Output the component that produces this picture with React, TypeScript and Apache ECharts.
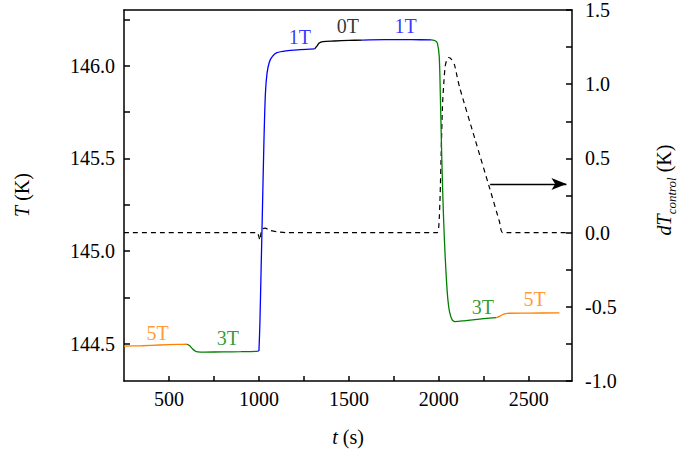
import React, { useEffect, useRef } from 'react';
import * as echarts from 'echarts';

const FONT = 'serif';

// tick positions
const xLabelValues = [500, 1000, 1500, 2000, 2500];
const xTickValues = [500, 750, 1000, 1250, 1500, 1750, 2000, 2250, 2500];
const tLabelValues = [144.5, 145.0, 145.5, 146.0];
const tTickValues = [144.5, 144.75, 145.0, 145.25, 145.5, 145.75, 146.0, 146.25];
const dLabelValues = [-1.0, -0.5, 0.0, 0.5, 1.0, 1.5];
const dTickValues = [-1.0, -0.75, -0.5, -0.25, 0.0, 0.25, 0.5, 0.75, 1.0, 1.25, 1.5];

// T(K) segments, [t (s), T (K)]
const seg5Ta = [[250, 144.488], [350, 144.49], [450, 144.494], [550, 144.497], [600, 144.498]];
const seg3Ta = [[600, 144.498], [615, 144.49], [630, 144.474], [645, 144.462], [660, 144.457], [700, 144.456], [800, 144.457], [900, 144.458], [990, 144.46], [1000, 144.462]];
const seg1Ta = [[1000, 144.462], [1005, 144.6], [1012, 144.9], [1020, 145.25], [1028, 145.6], [1036, 145.85], [1045, 145.96], [1058, 146.02], [1075, 146.05], [1100, 146.07], [1150, 146.08], [1230, 146.086], [1310, 146.09]];
const seg0T = [[1310, 146.09], [1322, 146.105], [1335, 146.122], [1355, 146.13], [1420, 146.133], [1500, 146.136], [1575, 146.138]];
const seg1Tb = [[1575, 146.138], [1700, 146.14], [1850, 146.14], [1960, 146.139]];
const seg3Tb = [[1960, 146.139], [1980, 146.134], [1992, 146.12], [2002, 146.05], [2008, 145.85], [2015, 145.55], [2022, 145.3], [2030, 145.08], [2040, 144.88], [2050, 144.74], [2060, 144.67], [2075, 144.628], [2090, 144.62], [2150, 144.626], [2250, 144.636], [2320, 144.642]];
const seg5Tb = [[2320, 144.642], [2340, 144.65], [2360, 144.66], [2380, 144.665], [2500, 144.666], [2670, 144.667]];

// dT_control (K), [t (s), dT]
const dTcontrol = [[250, 0], [990, 0], [998, -0.02], [1005, -0.05], [1012, 0.0], [1020, 0.025], [1035, 0.03], [1060, 0.015], [1100, 0.005], [1150, 0], [1990, 0], [2000, 0.05], [2007, 0.25], [2013, 0.54], [2020, 0.85], [2027, 1.0], [2035, 1.12], [2045, 1.168], [2055, 1.18], [2070, 1.168], [2087, 1.13], [2100, 1.06], [2115, 0.98], [2200, 0.633], [2282, 0.30], [2337, 0.073], [2355, 0], [2710, 0]];

// arrow pointing to the right axis, [t, dT]
const arrowFrom = [2285, 0.327];
const arrowTo = [2709, 0.327];

// field labels
const fieldLabels = [
  { text: '5T', t: 437, T: 144.557, color: '#ff8000' },
  { text: '3T', t: 827, T: 144.53, color: '#008000' },
  { text: '1T', t: 1227, T: 146.156, color: '#0000ff' },
  { text: '0T', t: 1494, T: 146.215, color: '#000000' },
  { text: '1T', t: 1815, T: 146.215, color: '#0000ff' },
  { text: '3T', t: 2244, T: 144.70, color: '#008000' },
  { text: '5T', t: 2532, T: 144.74, color: '#ff8000' },
];

const ORANGE = '#ff8000';
const GREEN = '#008000';
const BLUE = '#0000ff';
const BLACK = '#000000';

function lineSeries(data: number[][], color: string) {
  return {
    type: 'line',
    data,
    yAxisIndex: 0,
    showSymbol: false,
    smooth: 0.3,
    lineStyle: { color, width: 1.3 },
  };
}

export default function App() {
  const ref = useRef<HTMLDivElement>(null);
  useEffect(() => {
    if (!ref.current) return;
    const chart = echarts.init(ref.current, null, { renderer: 'svg' });
    chart.setOption({
      animation: false,
      backgroundColor: '#fff',
      grid: { left: 124, right: 106, top: 10, bottom: 75 },
      xAxis: [
        {
          type: 'value', min: 250, max: 2740, position: 'bottom',
          axisLine: { show: true, onZero: false, lineStyle: { color: '#000', width: 1.5 } },
          axisTick: { show: true, inside: true, length: 5, customValues: xTickValues, lineStyle: { color: '#000', width: 1.5 } },
          axisLabel: { color: '#000', fontFamily: FONT, fontSize: 20, margin: 8, customValues: xLabelValues, formatter: (v: number) => String(v) },
          splitLine: { show: false },
        },
        {
          type: 'value', min: 250, max: 2740, position: 'top',
          axisLine: { show: true, onZero: false, lineStyle: { color: '#000', width: 1.5 } },
          axisTick: { show: false },
          axisLabel: { show: false },
          splitLine: { show: false },
        },
      ],
      yAxis: [
        {
          type: 'value', min: 144.3, max: 146.3, position: 'left',
          axisLine: { show: true, lineStyle: { color: '#000', width: 1.5 } },
          axisTick: { show: true, inside: true, length: 6, customValues: tTickValues, lineStyle: { color: '#000', width: 1.5 } },
          axisLabel: { color: '#000', fontFamily: FONT, fontSize: 20, margin: 9, customValues: tLabelValues, formatter: (v: number) => v.toFixed(1) },
          splitLine: { show: false },
        },
        {
          type: 'value', min: -1.0, max: 1.5, interval: 0.5, position: 'right',
          axisLine: { show: true, onZero: false, lineStyle: { color: '#000', width: 1.5 } },
          axisTick: { show: true, inside: true, length: 6, customValues: dTickValues, lineStyle: { color: '#000', width: 1.5 } },
          axisLabel: { color: '#000', fontFamily: FONT, fontSize: 20, margin: 13, customValues: dLabelValues, formatter: (v: number) => v.toFixed(1) },
          splitLine: { show: false },
        },
      ],
      series: [
        {
          type: 'line',
          data: dTcontrol,
          yAxisIndex: 1,
          showSymbol: false,
          smooth: 0.2,
          lineStyle: { color: BLACK, width: 1.2, type: [5, 4] },
          markLine: {
            silent: true,
            symbol: ['none', 'arrow'],
            symbolSize: [9, 15],
            label: { show: false },
            lineStyle: { color: '#000', width: 1.3, type: 'solid' },
            data: [[{ coord: arrowFrom }, { coord: arrowTo }]],
          },
        },
        lineSeries(seg5Ta, ORANGE),
        lineSeries(seg3Ta, GREEN),
        lineSeries(seg1Ta, BLUE),
        lineSeries(seg0T, BLACK),
        lineSeries(seg1Tb, BLUE),
        lineSeries(seg3Tb, GREEN),
        lineSeries(seg5Tb, ORANGE),
        {
          type: 'scatter',
          yAxisIndex: 0,
          symbolSize: 1,
          itemStyle: { color: 'transparent' },
          data: fieldLabels.map((a) => ({
            name: a.text,
            value: [a.t, a.T],
            label: { color: a.color },
          })),
          label: { show: true, position: 'inside', formatter: '{b}', fontFamily: FONT, fontSize: 20 },
        },
      ],
      graphic: [
        {
          type: 'text', x: 22, y: 195, rotation: Math.PI / 2,
          style: {
            text: '{i|T} (K)', fill: '#000', font: '20px serif',
            align: 'center', verticalAlign: 'middle',
            rich: { i: { font: 'italic 20px serif' } },
          },
        },
        {
          type: 'text', x: 664, y: 190, rotation: Math.PI / 2,
          style: {
            text: '{i|dT}{s|control}{n| (K)}', fill: '#000', font: '20px serif',
            align: 'center', verticalAlign: 'middle',
            rich: {
              i: { font: 'italic 20px serif', lineHeight: 28 },
              n: { font: '20px serif', lineHeight: 28 },
              s: { font: 'italic 13px serif', verticalAlign: 'bottom' },
            },
          },
        },
        {
          type: 'text', x: 348, y: 437,
          style: {
            text: '{i|t} (s)', fill: '#000', font: '20px serif',
            align: 'center', verticalAlign: 'middle',
            rich: { i: { font: 'italic 20px serif' } },
          },
        },
      ],
    });
    return () => chart.dispose();
  }, []);
  return <div ref={ref} style={{ position: 'absolute', left: 0, top: 0, width: 678, height: 456 }} />;
}
